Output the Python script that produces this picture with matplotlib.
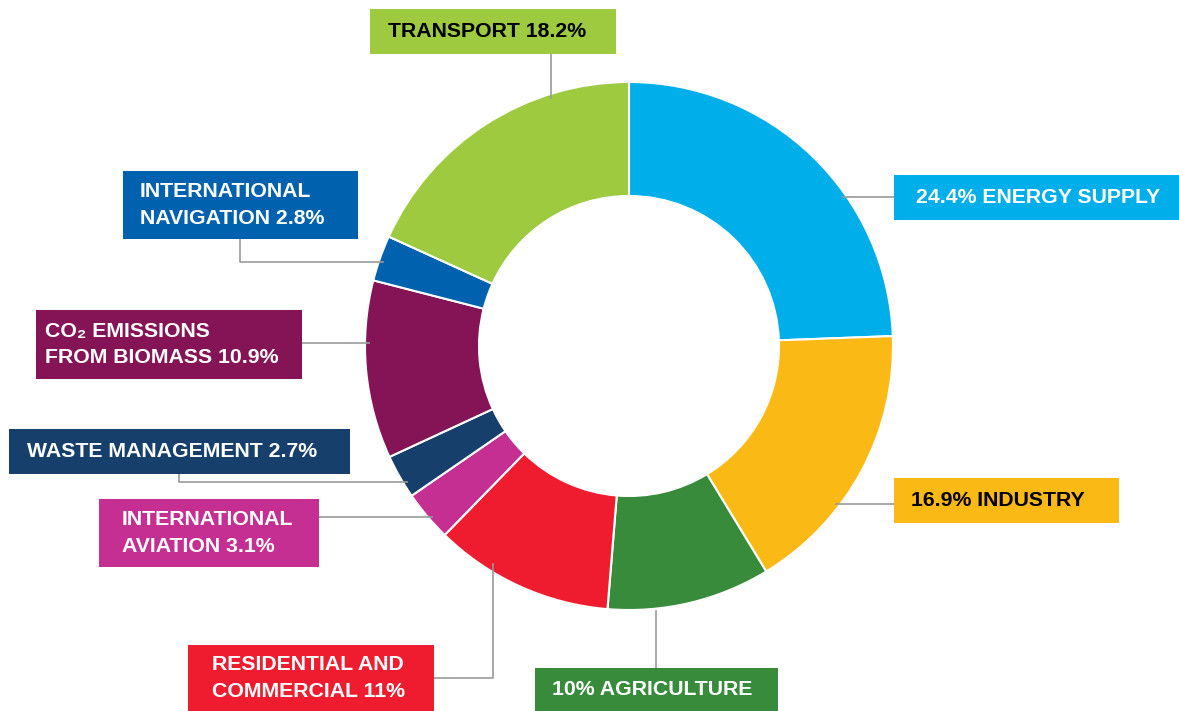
import numpy as np
import matplotlib.pyplot as plt
from matplotlib.patches import Rectangle

plt.rcParams['font.family'] = ['Liberation Sans', 'DejaVu Sans']
plt.rcParams['font.weight'] = 'bold'

sectors = ["ENERGY SUPPLY", "INDUSTRY", "AGRICULTURE", "RESIDENTIAL AND COMMERCIAL",
           "INTERNATIONAL AVIATION", "WASTE MANAGEMENT", "CO₂ EMISSIONS FROM BIOMASS",
           "INTERNATIONAL NAVIGATION", "TRANSPORT"]
shares = [24.4, 16.9, 10, 11, 3.1, 2.7, 10.9, 2.8, 18.2]
colors = ["#00aee9", "#fbb915", "#378b3a", "#ee1c2e", "#c42f91",
          "#163f6b", "#841456", "#0061ae", "#9dca3f"]
labels = ["24.4% ENERGY SUPPLY", "16.9% INDUSTRY", "10% AGRICULTURE",
          "RESIDENTIAL AND\nCOMMERCIAL 11%", "INTERNATIONAL\nAVIATION 3.1%",
          "WASTE MANAGEMENT 2.7%", "CO₂ EMISSIONS\nFROM BIOMASS 10.9%",
          "INTERNATIONAL\nNAVIGATION 2.8%", "TRANSPORT 18.2%"]
text_colors = ["white", "black", "white", "white", "white",
               "white", "white", "white", "black"]

W, H = 1179, 711
cx, cy, R = 629, H - 346, 264
ring = 114

fig = plt.figure(figsize=(W / 100, H / 100), dpi=100)
ax = fig.add_axes([0, 0, 1, 1])

ax.pie(shares, colors=colors, startangle=90, counterclock=False,
       center=(cx, cy), radius=R, frame=True,
       wedgeprops=dict(width=ring, edgecolor='white', linewidth=1.5))
ax.set_xlim(0, W)
ax.set_ylim(0, H)
ax.set_aspect('equal')
ax.axis('off')

# box layout in pixel coords from the top: (left, top, right, bottom, text pad)
boxes = [(894, 175, 1179, 220, 22), (894, 478, 1119, 523, 17),
         (535, 668, 778, 711, 17), (188, 645, 434, 711, 24),
         (99, 499, 319, 567, 23), (9, 429, 350, 474, 18),
         (36, 310, 302, 379, 9), (123, 171, 358, 239, 17),
         (370, 9, 616, 54, 18)]

for (x0, y0, x1, y1, pad), lab, c, tc in zip(boxes, labels, colors, text_colors):
    ax.add_patch(Rectangle((x0, H - y1), x1 - x0, y1 - y0, facecolor=c,
                           edgecolor='none', zorder=3))
    ax.text(x0 + pad, H - (y0 + y1) / 2, lab, color=tc, fontsize=15.3,
            fontweight='bold', va='center', ha='left', linespacing=1.5,
            zorder=4)


def ring_x(y, side):
    return cx + side * np.sqrt(R ** 2 - (H - y - cy) ** 2)


def ring_y(x, side):
    return H - (cy - side * np.sqrt(R ** 2 - (x - cx) ** 2))


line = dict(color='#9a9a9a', lw=1.2, zorder=1)
# energy supply, industry
ax.plot([ring_x(197, 1) - 4, 894], [H - 197, H - 197], **line)
ax.plot([ring_x(504, 1) - 4, 894], [H - 504, H - 504], **line)
# agriculture
ax.plot([656, 656], [H - 668, H - ring_y(656, 1) - 2], **line)
# residential and commercial
ax.plot([434, 493, 493], [H - 678, H - 678, H - ring_y(493, 1) + 8], **line)
# international aviation
ax.plot([319, ring_x(517, -1) + 4], [H - 517, H - 517], **line)
# waste management
ax.plot([179, 179, ring_x(482, -1) + 4], [H - 474, H - 482, H - 482], **line)
# co2 biomass
ax.plot([302, ring_x(343, -1) + 4], [H - 343, H - 343], **line)
# international navigation
ax.plot([240, 240, ring_x(262, -1) + 4], [H - 239, H - 262, H - 262], **line)
# transport
ax.plot([551, 551], [H - 54, H - ring_y(551, -1) - 4], **line)

fig.savefig("out.png", dpi=100, facecolor='white')
